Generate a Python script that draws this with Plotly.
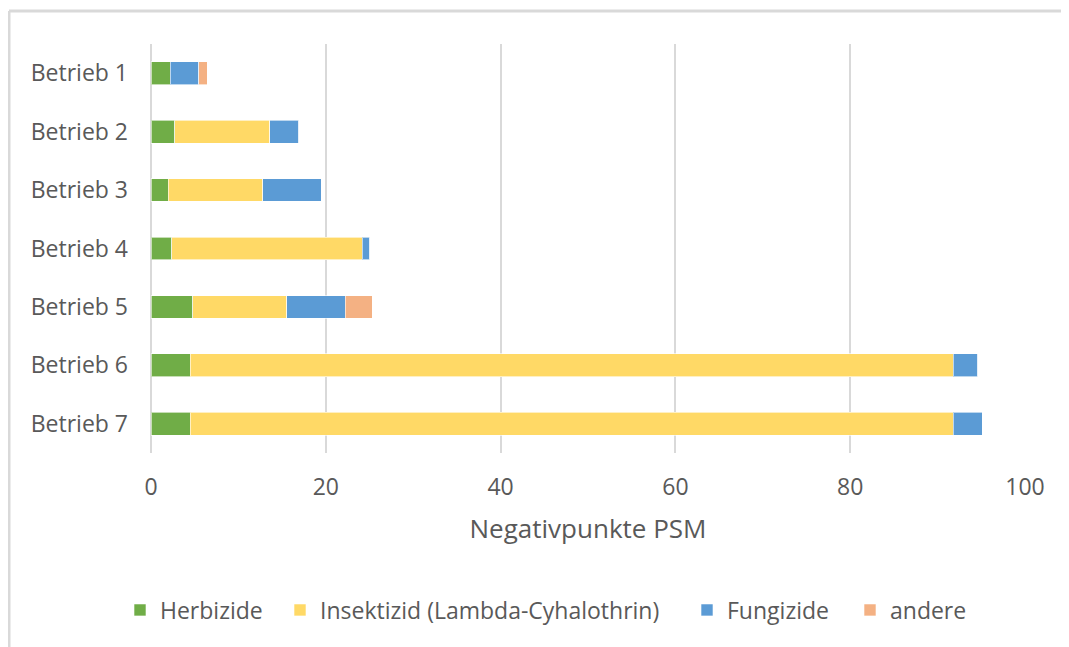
import plotly.graph_objects as go

betriebe = ["Betrieb 1", "Betrieb 2", "Betrieb 3", "Betrieb 4", "Betrieb 5", "Betrieb 6", "Betrieb 7"]
herbizide = [2.2, 2.7, 2.0, 2.35, 4.8, 4.5, 4.5]
insektizid = [0, 10.9, 10.8, 21.8, 10.75, 87.3, 87.3]
fungizide = [3.25, 3.3, 6.7, 0.85, 6.7, 2.8, 3.3]
andere = [1.0, 0, 0, 0, 3.05, 0, 0]

series = [
    ("Herbizide", herbizide, "#70AD47"),
    ("Insektizid (Lambda-Cyhalothrin)", insektizid, "#FFD966"),
    ("Fungizide", fungizide, "#5B9BD5"),
    ("andere", andere, "#F4B183"),
]
legend_square_x = [137, 297, 704, 867]  # screen x of each legend swatch

FONT = "Open Sans"
TXT = "#595959"

# page body has an 8px offset; figure coordinates = screen - 8
OFF = 8
W, H = 1069, 647
ml, mr, mt, mb = 151 - OFF, 1069 - (1025 - OFF), 44 - OFF, 647 - (453 - OFF)
pw, ph = W - ml - mr, H - mt - mb

def px(x):
    return (x - OFF - ml) / pw

def py(y):
    return 1 - (y - OFF - mt) / ph

fig = go.Figure()
legend_layouts = {}
for i, (name, vals, col) in enumerate(series):
    lname = "legend" if i == 0 else f"legend{i + 1}"
    fig.add_trace(go.Bar(
        y=betriebe, x=vals, name=name, orientation="h", legend=lname,
        marker=dict(color=col, line=dict(color="rgba(255,255,255,0.6)", width=1)),
    ))
    legend_layouts[lname] = dict(
        orientation="h", x=px(legend_square_x[i] - 17), xanchor="left",
        y=py(610), yanchor="middle", bgcolor="rgba(0,0,0,0)",
        font=dict(size=23, color=TXT), itemwidth=30,
    )

fig.update_layout(
    width=W, height=H,
    margin=dict(l=ml, r=mr, t=mt, b=mb, pad=0),
    barmode="stack", bargap=0.61,
    plot_bgcolor="white", paper_bgcolor="white",
    font=dict(family=FONT, size=23, color=TXT),
    showlegend=True,
    xaxis=dict(range=[0, 100], dtick=20, showgrid=True, gridcolor="#D9D9D9", gridwidth=2,
               zeroline=True, zerolinecolor="#D9D9D9", zerolinewidth=2,
               showline=False, ticks="", ticklabelstandoff=18,
               tickfont=dict(size=23, color=TXT),
               title=dict(text="Negativpunkte PSM", font=dict(size=26, color=TXT), standoff=18)),
    yaxis=dict(autorange="reversed", showgrid=False, zeroline=False, showline=False,
               ticks="", ticklabelstandoff=22, tickfont=dict(size=23, color=TXT)),
    shapes=[
        dict(type="line", xref="paper", yref="paper", x0=px(9), x1=px(1090), y0=py(11), y1=py(11),
             line=dict(color="#D9D9D9", width=3)),
        dict(type="line", xref="paper", yref="paper", x0=px(9), x1=px(9), y0=py(11), y1=py(680),
             line=dict(color="#D9D9D9", width=3)),
    ],
    **legend_layouts,
)

fig.write_html("out.html")
